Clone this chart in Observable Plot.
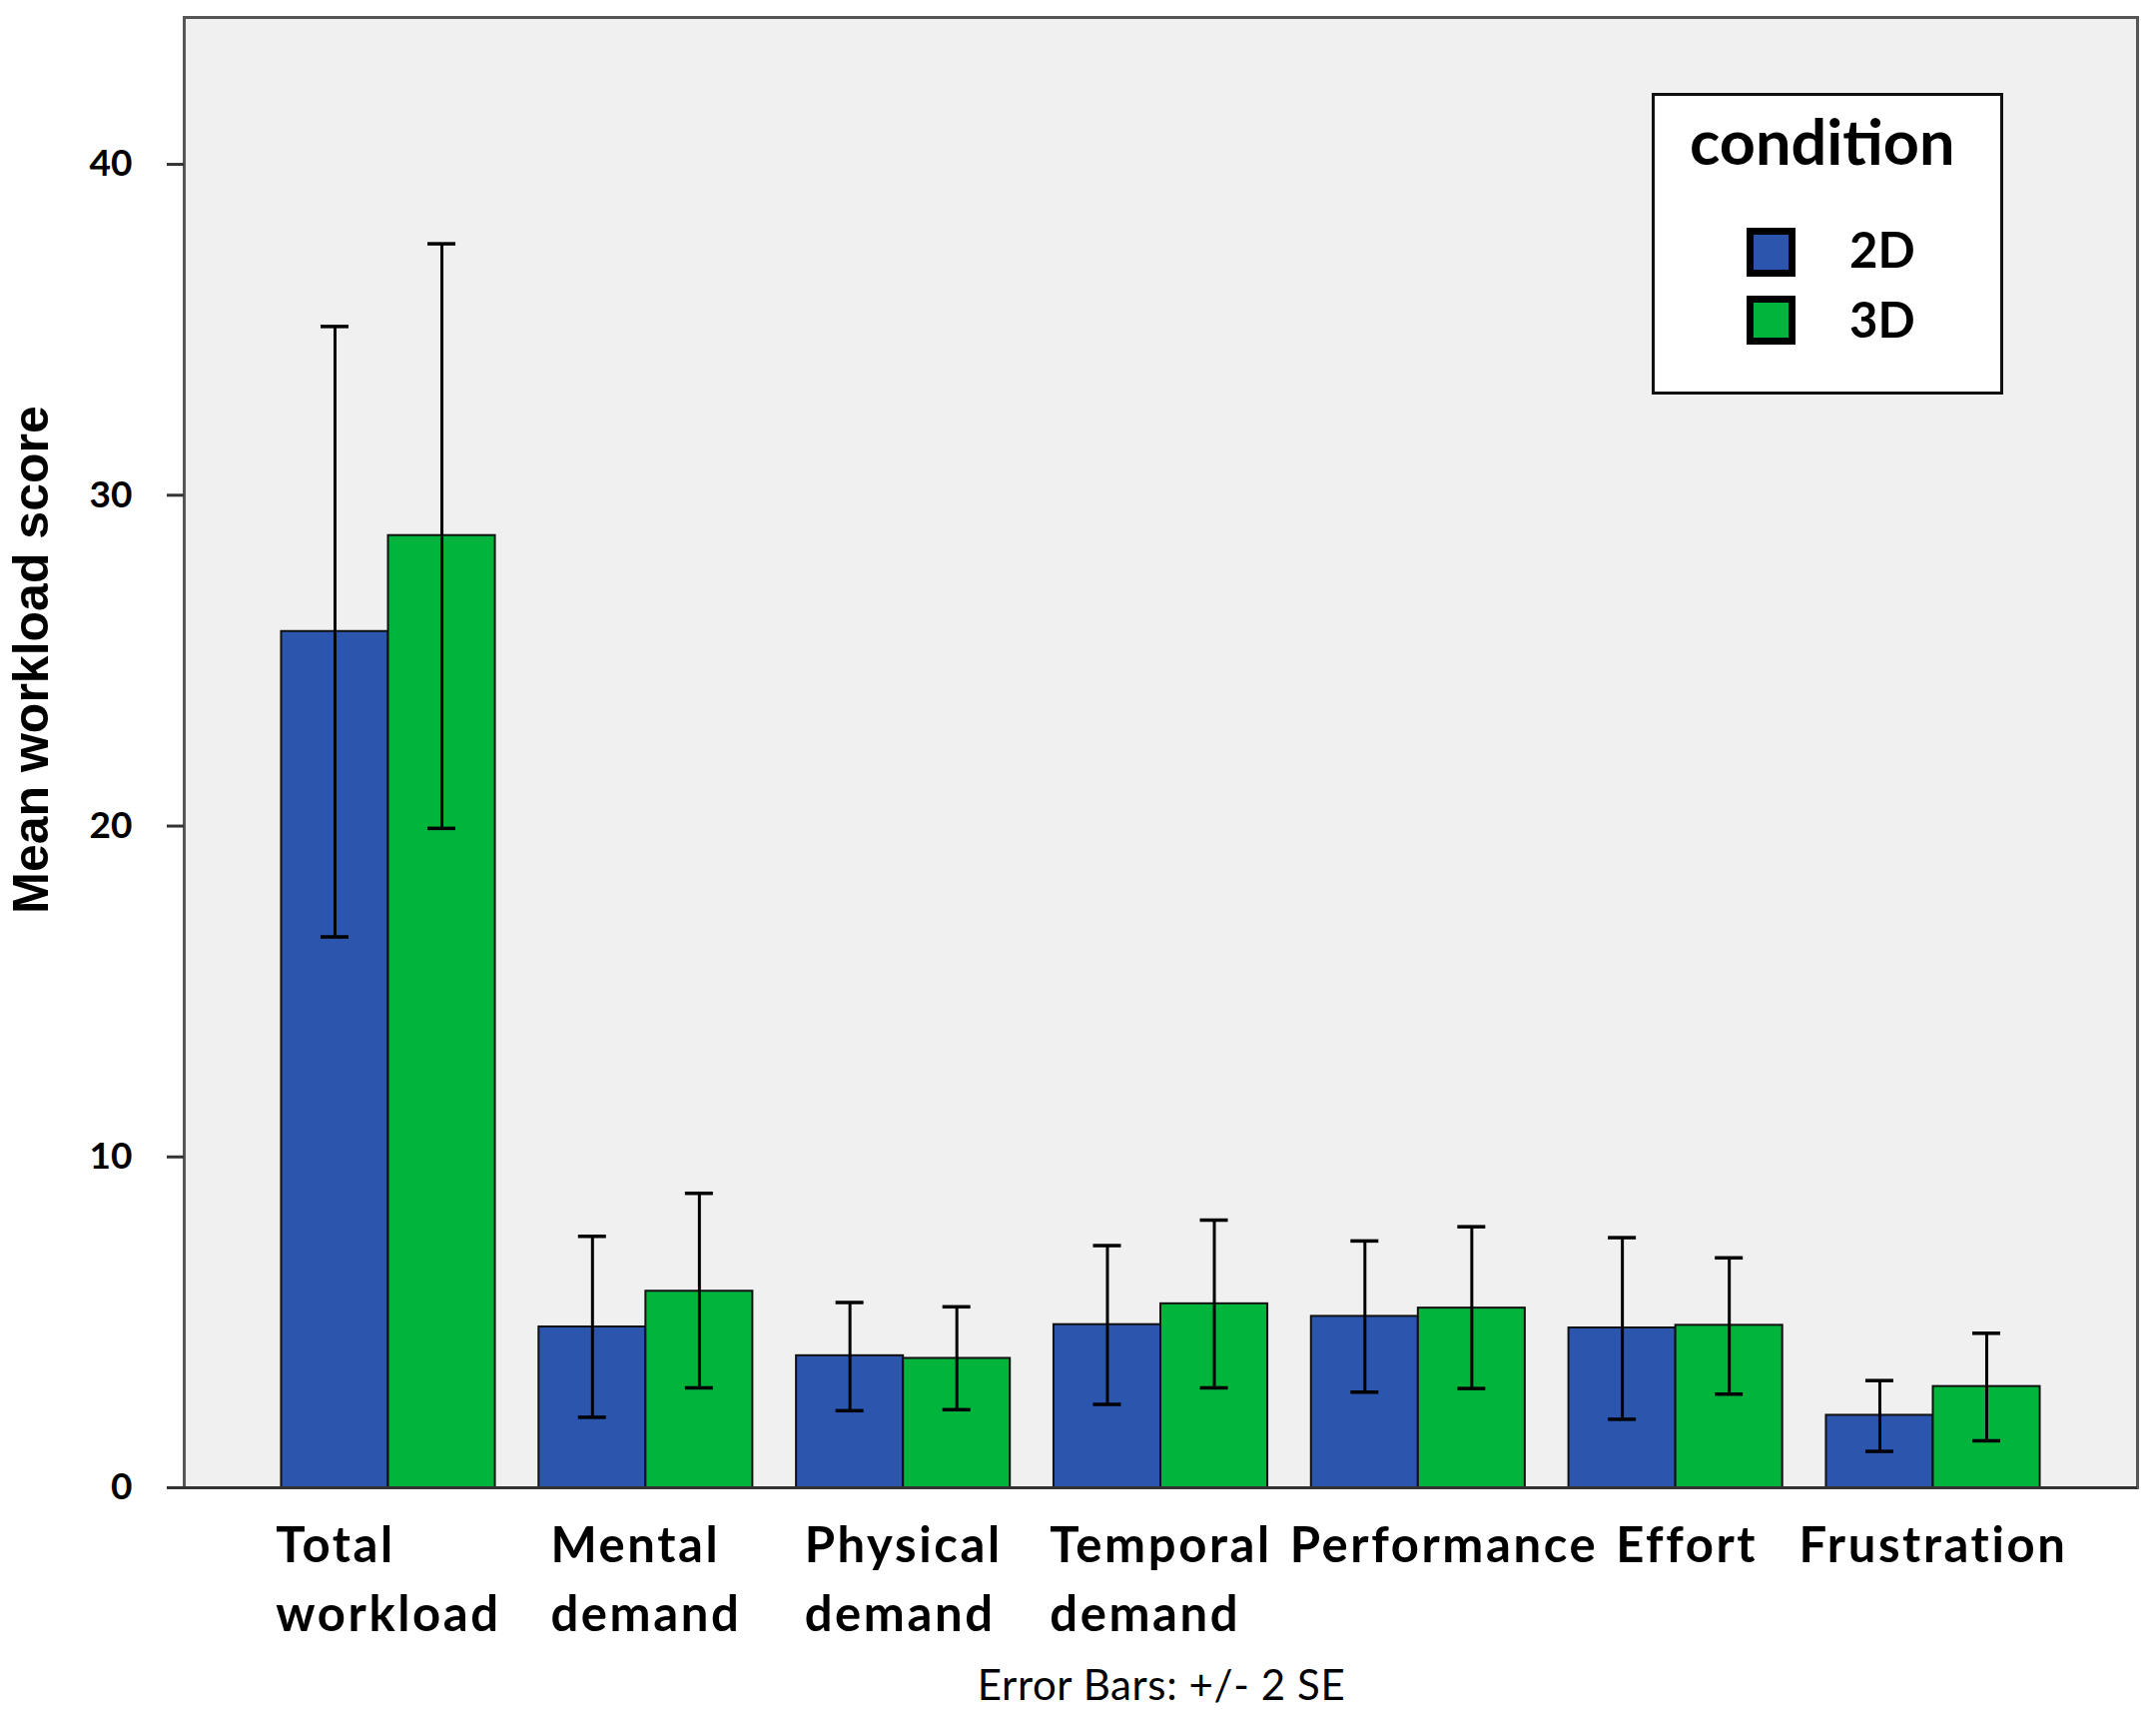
<!DOCTYPE html>
<html>
<head>
<meta charset="utf-8">
<script src="https://cdn.jsdelivr.net/npm/d3@7"></script>
<script src="https://cdn.jsdelivr.net/npm/@observablehq/plot@0.6"></script>
<style>
  html, body { margin: 0; padding: 0; background: #fff; }
  #wrap { position: relative; width: 2159px; height: 1727px; }
  #legend { position: absolute; left: 1654px; top: 93px; width: 346px; height: 296px;
            background: #fff; border: 3px solid #111; }
  .lg { position: absolute; font-family: Lato, "Open Sans", sans-serif; font-weight: bold; line-height: 1; color: #000; white-space: nowrap; }
  .sw { position: absolute; width: 35px; height: 35px; border: 7px solid #000; }
  #caption { position: absolute; top: 1665px; left: 1163px; transform: translateX(-50%);
             font-family: Lato, "Open Sans", sans-serif; font-size: 42px; letter-spacing: 0.6px; line-height: 1; color: #000; white-space: nowrap; }
  g[aria-label="x-axis tick label"] text { letter-spacing: 2.6px; }
</style>
</head>
<body>
<div id="wrap">
  <div id="chart"></div>
  <div id="legend"></div>
  <div id="caption">Error Bars: +/- 2 SE</div>
</div>
<script>
// ---- data ----
const categories = ["Total workload", "Mental demand", "Physical demand", "Temporal demand", "Performance", "Effort", "Frustration"];
const tickLabels = ["Total\nworkload", "Mental\ndemand", "Physical\ndemand", "Temporal\ndemand", "Performance", "Effort", "Frustration"];
const conditions = ["2D", "3D"];
const mean2D = [25.88, 4.86, 3.99, 4.93, 5.18, 4.83, 2.19];
const mean3D = [28.78, 5.94, 3.91, 5.56, 5.43, 4.91, 3.06];
const lo2D = [16.65, 2.13, 2.33, 2.52, 2.89, 2.07, 1.10];
const hi2D = [35.10, 7.60, 5.60, 7.32, 7.46, 7.56, 3.24];
const lo3D = [19.93, 3.02, 2.36, 3.02, 3.00, 2.83, 1.42];
const hi3D = [37.60, 8.90, 5.47, 8.09, 7.89, 6.95, 4.67];
const yTicks = [0, 10, 20, 30, 40];
const yLabel = "Mean workload score";
const colors = ["#2C56AE", "#00B43C"];

const rows = [];
categories.forEach((c, i) => {
  rows.push({category: c, condition: "2D", mean: mean2D[i], lo: lo2D[i], hi: hi2D[i]});
  rows.push({category: c, condition: "3D", mean: mean3D[i], lo: lo3D[i], hi: hi3D[i]});
});
const r2 = rows.filter(d => d.condition === "2D");
const r3 = rows.filter(d => d.condition === "3D");

// ---- layout ----
const W = 2159, H = 1660;
const mL = 184, mR = 19, mT = 17, mB = 171;
const padIn = 0.1696, padOut = 0.378;
const bw = d3.scaleBand().domain(categories).range([mL, W - mR]).paddingInner(padIn).paddingOuter(padOut).bandwidth();
const half = bw / 2, q = bw / 4, cap = 14;
const labelMap = new Map(categories.map((c, i) => [c, tickLabels[i]]));

const chart = Plot.plot({
  width: W, height: H,
  marginLeft: mL, marginRight: mR, marginTop: mT, marginBottom: mB,
  style: {fontFamily: "Lato, 'Open Sans', sans-serif", fontSize: "36px", background: "white", color: "black"},
  x: {type: "band", domain: categories, paddingInner: padIn, paddingOuter: padOut, round: false},
  y: {domain: [0, 44.44]},
  color: {domain: conditions, range: colors},
  marks: [
    Plot.frame({fill: "#F0F0F0", stroke: "#555", strokeWidth: 3}),
    Plot.barY(r2, {x: "category", y: "mean", fill: "condition", stroke: "#111", strokeWidth: 2, insetRight: half}),
    Plot.barY(r3, {x: "category", y: "mean", fill: "condition", stroke: "#111", strokeWidth: 2, insetLeft: half}),
    Plot.ruleX(r2, {x: "category", y1: "lo", y2: "hi", dx: -q, stroke: "#000", strokeWidth: 3}),
    Plot.ruleX(r3, {x: "category", y1: "lo", y2: "hi", dx: q, stroke: "#000", strokeWidth: 3}),
    Plot.tickY(r2, {x: "category", y: "hi", insetLeft: q - cap, insetRight: bw - q - cap, stroke: "#000", strokeWidth: 3.5}),
    Plot.tickY(r2, {x: "category", y: "lo", insetLeft: q - cap, insetRight: bw - q - cap, stroke: "#000", strokeWidth: 3.5}),
    Plot.tickY(r3, {x: "category", y: "hi", insetLeft: half + q - cap, insetRight: q - cap, stroke: "#000", strokeWidth: 3.5}),
    Plot.tickY(r3, {x: "category", y: "lo", insetLeft: half + q - cap, insetRight: q - cap, stroke: "#000", strokeWidth: 3.5}),
    Plot.axisY({ticks: yTicks, tickSize: 17, tickPadding: 35, fontSize: 37, fontWeight: "bold", stroke: "#333", strokeWidth: 3, label: null}),
    Plot.axisX({tickSize: 0, tickPadding: 26, fontSize: 49, fontWeight: "bold", lineHeight: 1.4, textAnchor: "start",
                tickFormat: d => labelMap.get(d), label: null}),
    Plot.ruleY([0], {stroke: "#333", strokeWidth: 3}),
    Plot.text([yLabel], {frameAnchor: "left", rotate: -90, dx: -153, dy: -93, textAnchor: "middle", lineAnchor: "middle",
                         fontSize: 50, fontWeight: "bold", fontFamily: "'Liberation Sans', Arial, sans-serif", fill: "#000"})
  ]
});
document.getElementById("chart").appendChild(chart);

// center each multi-line x tick label block under its group (lines left-aligned within block),
// pushing a label right when it would collide with the previous one
const minGap = 18;
let prevRight = -Infinity;
chart.querySelectorAll('g[aria-label="x-axis tick label"] text').forEach(t => {
  const box = t.getBoundingClientRect();
  const w = box.width;
  let shift = -w / 2;
  const left = box.left + shift;
  if (left < prevRight + minGap) shift += prevRight + minGap - left;
  prevRight = box.left + shift + w;
  t.setAttribute("transform", (t.getAttribute("transform") || "") + ` translate(${shift},0)`);
});

// legend (inside plot area, top right)
const color = chart.scale("color");
const lg = document.getElementById("legend");
const ox = 1657, oy = 96; // inner origin of legend box
function addText(txt, x, baseline, size) {
  const s = document.createElement("div");
  s.className = "lg";
  s.textContent = txt;
  s.style.fontSize = size + "px";
  s.style.left = (x - ox) + "px";
  s.style.top = (baseline - 0.887 * size - oy) + "px";
  lg.appendChild(s);
}
addText("condition", 1692, 165, 63);
conditions.forEach((c, i) => {
  const sw = document.createElement("div");
  sw.className = "sw";
  sw.style.background = color.apply(c);
  sw.style.left = (1749 - ox) + "px";
  sw.style.top = ([228, 296][i] - oy) + "px";
  lg.appendChild(sw);
  addText(c, 1852, [268, 338][i], 49);
});
</script>
</body>
</html>
